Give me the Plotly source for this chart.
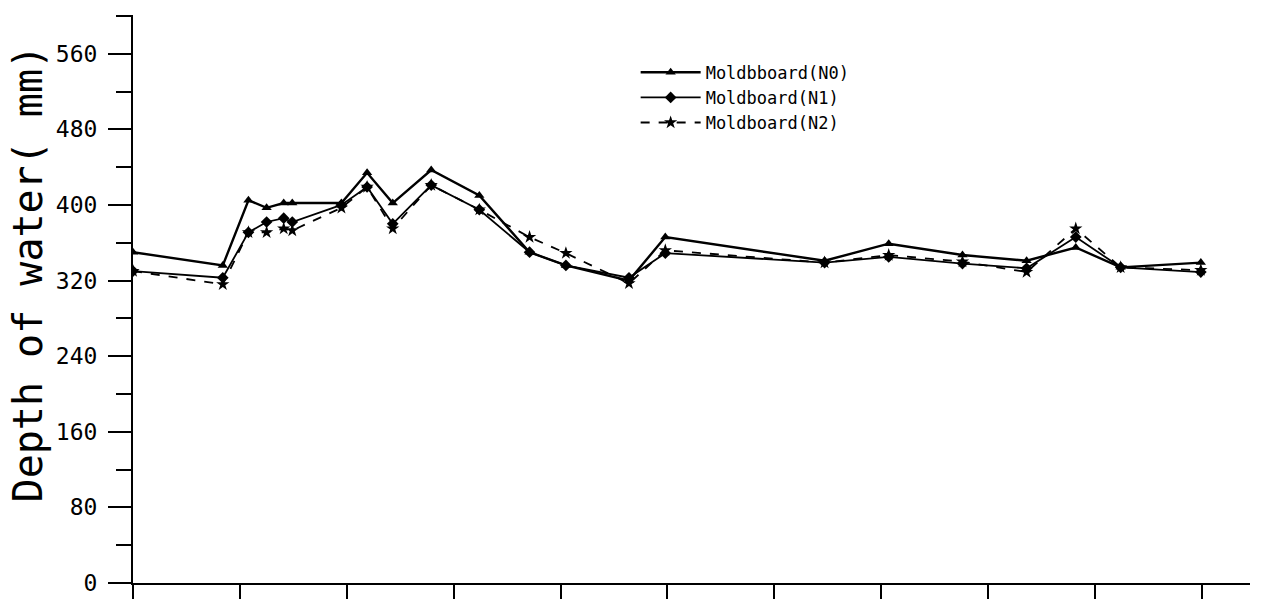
import plotly.graph_objects as go

# x positions (relative time units, tick spacing = 1)
x_vals = [0, 0.84, 1.08, 1.25, 1.41, 1.49, 1.95, 2.19, 2.43, 2.79, 3.24, 3.71,
          4.05, 4.64, 4.98, 6.47, 7.07, 7.76, 8.36, 8.82, 9.24, 9.99]

n0 = [350, 336, 405, 397, 402, 402, 402, 434, 402, 437, 410, 350,
      336, 320, 366, 341, 359, 347, 341, 355, 334, 339]
n1 = [330, 323, 371, 382, 386, 382, 400, 419, 380, 421, 395, 350,
      336, 323, 349, 339, 345, 338, 333, 366, 334, 329]
n2 = [330, 316, 371, 371, 375, 373, 397, 419, 375, 421, 395, 366,
      349, 317, 352, 339, 347, 340, 329, 375, 334, 331]

names = ["Moldbboard(N0)", "Moldboard(N1)", "Moldboard(N2)"]
y_label_vals = [0, 80, 160, 240, 320, 400, 480, 560]
x_tick_vals = list(range(0, 11))

MONO = "DejaVu Sans Mono"

fig = go.Figure()
fig.add_trace(go.Scatter(x=x_vals, y=n0, name=names[0], mode="lines+markers",
                         line=dict(color="black", width=2.4),
                         marker=dict(symbol="triangle-up", size=9, color="black")))
fig.add_trace(go.Scatter(x=x_vals, y=n1, name=names[1], mode="lines+markers",
                         line=dict(color="black", width=1.8),
                         marker=dict(symbol="diamond", size=9, color="black")))
fig.add_trace(go.Scatter(x=x_vals, y=n2, name=names[2], mode="lines+markers",
                         line=dict(color="black", width=1.8, dash="dash"),
                         marker=dict(symbol="star", size=10, color="black")))

fig.update_layout(
    width=1267, height=599,
    margin=dict(l=133, r=17, t=15, b=16, autoexpand=False),
    paper_bgcolor="white", plot_bgcolor="white",
    font=dict(family=MONO, color="black"),
    showlegend=True,
    legend=dict(x=0.450, y=0.93, xanchor="left", yanchor="top",
                bgcolor="rgba(0,0,0,0)", font=dict(family=MONO, size=17),
                tracegroupgap=0, itemwidth=60),
    xaxis=dict(range=[0, 10.45], showgrid=False, zeroline=False, automargin=False,
               showline=True, linecolor="black", linewidth=2,
               tickmode="array", tickvals=x_tick_vals, showticklabels=False,
               ticks="outside", ticklen=14, tickwidth=2, tickcolor="black"),
    yaxis=dict(range=[0, 601], showgrid=False, zeroline=False, automargin=False,
               showline=True, linecolor="black", linewidth=2,
               tickmode="array", tickvals=y_label_vals,
               ticktext=[str(v) for v in y_label_vals],
               ticks="outside", ticklen=23, tickwidth=2, tickcolor="black",
               tickfont=dict(family=MONO, size=23),
               ticklabelstandoff=6,
               minor=dict(tickmode="linear", tick0=40, dtick=80, ticks="outside",
                          ticklen=15, tickwidth=2, tickcolor="black")),
)

fig.add_annotation(text="Depth of water( mm)", xref="paper", yref="paper",
                   x=-0.094, y=0.545, xanchor="center", yanchor="middle",
                   textangle=-90, showarrow=False,
                   font=dict(family=MONO, size=40, color="black"))

fig.write_html("out.html")
